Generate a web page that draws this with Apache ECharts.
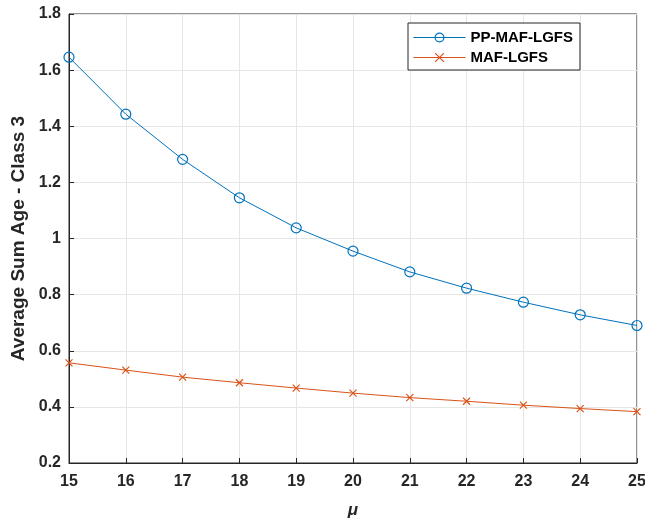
<!DOCTYPE html>
<html><head><meta charset="utf-8">
<script src="https://cdn.jsdelivr.net/npm/echarts@6/dist/echarts.min.js"></script>
<style>html,body{margin:0;padding:0;background:#fff}#c{width:645px;height:519px}</style>
</head><body><div id="c"></div>
<script>
const mu = [15,16,17,18,19,20,21,22,23,24,25];
const ppMafLgfs = [1.646,1.443,1.282,1.145,1.038,0.955,0.881,0.823,0.773,0.728,0.690];
const mafLgfs = [0.557,0.531,0.506,0.486,0.467,0.449,0.433,0.420,0.406,0.394,0.383];
const yTicks = [0.2,0.4,0.6,0.8,1,1.2,1.4,1.6,1.8];
const font = 'Liberation Sans, Arial, sans-serif';
const axisCol = '#262626';
const chart = echarts.init(document.getElementById('c'));
chart.setOption({
  animation:false,
  backgroundColor:'#fff',
  grid:{left:69,right:8,top:14,bottom:56,show:true,borderColor:axisCol,borderWidth:1,
        outerBoundsMode:'none',containLabel:false},
  legend:{
    orient:'vertical', left:408, top:23,
    backgroundColor:'#fff', borderColor:axisCol, borderWidth:1,
    padding:[7,7,5,5], itemGap:5, itemWidth:52, itemHeight:11,
    lineStyle:{width:1}, itemStyle:{borderWidth:1.2},
    textStyle:{fontFamily:font,fontWeight:'bold',fontSize:15,color:'#000'},
    data:['PP-MAF-LGFS','MAF-LGFS']
  },
  xAxis:{
    type:'value', min:15, max:25, interval:1,
    name:'μ', nameLocation:'middle', nameGap:39,
    nameTextStyle:{fontFamily:font,fontWeight:'bold',fontStyle:'italic',fontSize:17,color:axisCol},
    axisLine:{lineStyle:{color:axisCol}},
    axisTick:{inside:true,length:5,lineStyle:{color:axisCol}},
    axisLabel:{fontFamily:font,fontWeight:'bold',fontSize:16,color:axisCol,margin:11},
    splitLine:{show:true,lineStyle:{color:'#e6e6e6'}}
  },
  yAxis:{
    type:'value', min:0.2, max:1.8, interval:0.2,
    name:'Average Sum Age - Class 3', nameLocation:'middle', nameGap:36,
    nameTextStyle:{fontFamily:font,fontWeight:'bold',fontSize:19,color:axisCol},
    axisLine:{show:true,lineStyle:{color:axisCol}},
    axisTick:{show:true,inside:true,length:5,lineStyle:{color:axisCol}},
    axisLabel:{fontFamily:font,fontWeight:'bold',fontSize:16,color:axisCol,margin:8,
      formatter:v=>{const t=yTicks.find(x=>Math.abs(x-v)<1e-6);return String(+(t??v).toFixed(1));}},
    splitLine:{show:true,lineStyle:{color:'#e6e6e6'}}
  },
  series:[
    {name:'PP-MAF-LGFS',type:'line',data:mu.map((m,i)=>[m,ppMafLgfs[i]]),
     lineStyle:{width:1,color:'#0072BD'},symbol:'circle',symbolSize:10,
     itemStyle:{color:'rgba(255,255,255,0)',borderColor:'#0072BD',borderWidth:1.2},showAllSymbol:true},
    {name:'MAF-LGFS',type:'line',data:mu.map((m,i)=>[m,mafLgfs[i]]),
     lineStyle:{width:1,color:'#D95319'},
     symbol:'path://M0,0 L10,10 M10,0 L0,10',symbolSize:7,
     itemStyle:{color:'#D95319',borderColor:'#D95319',borderWidth:1.2}}
  ]
});
</script></body></html>
